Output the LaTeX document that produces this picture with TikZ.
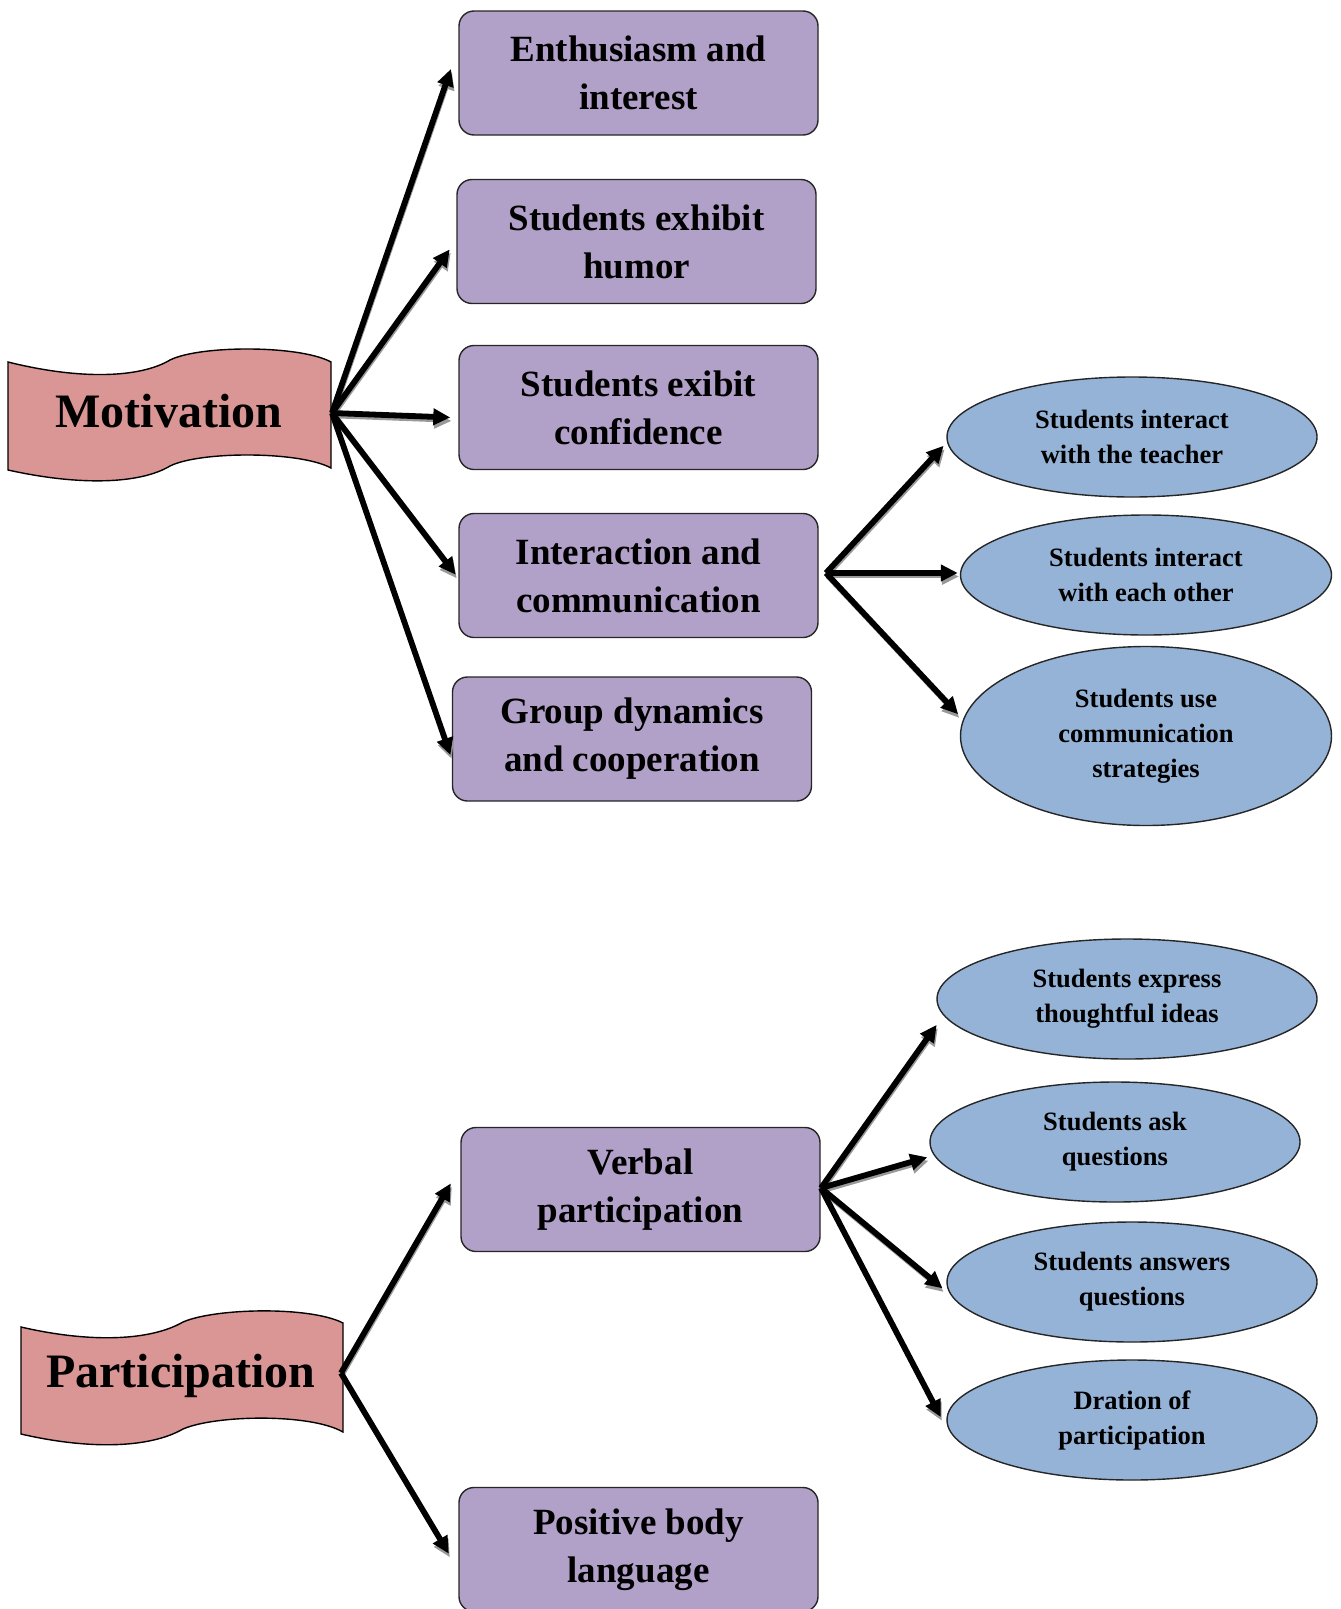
\documentclass[tikz,border=0pt]{standalone}
\usepackage{fontspec}
\setmainfont{Liberation Serif}
\usetikzlibrary{shapes.geometric,arrows.meta}
\definecolor{boxpurple}{RGB}{177,160,199}
\definecolor{ellblue}{RGB}{149,179,215}
\definecolor{bannerred}{RGB}{217,150,148}
\begin{document}
\begin{tikzpicture}[x=1pt,y=-1pt,
  purplebox/.style={draw=black!85,line width=1.4pt,fill=boxpurple,rounded corners=15pt,
    minimum width=359pt,minimum height=124pt,inner sep=0pt,align=center,
    font=\fontsize{37}{48}\selectfont\bfseries},
  blueell/.style={draw=black!85,line width=1.4pt,fill=ellblue,ellipse,inner sep=0pt,align=center,
    font=\fontsize{26.5}{35}\selectfont\bfseries},
  banner/.style={draw=black,line width=1.4pt,fill=bannerred},
  bannertext/.style={font=\fontsize{48}{56}\selectfont\bfseries},
  arr/.style={line width=5.8pt,-{Triangle[length=17pt,width=16pt]},shorten >=1pt,
    preaction={draw=black!40,line width=3.5pt,transform canvas={shift={(1pt,-3.5pt)}}}}
]
\useasboundingbox (0,0) rectangle (1341,1609);
% Motivation banner
\draw[banner] (8,362) .. controls (80,380) and (140,378) .. (170,360)
  .. controls (200,345) and (300,345) .. (331,362) -- (331,468)
  .. controls (300,451) and (200,451) .. (170,466)
  .. controls (140,484) and (80,486) .. (8,470) -- cycle;
\node[bannertext] (mot) at (169,411) {Motivation};
\coordinate (motR) at (332,413);
% Participation banner
\draw[banner] (21,1327) .. controls (90,1343) and (150,1341) .. (183,1322)
  .. controls (215,1308) and (310,1306) .. (343,1323) -- (343,1432)
  .. controls (310,1413) and (215,1415) .. (183,1429)
  .. controls (150,1448) and (90,1450) .. (21,1434) -- cycle;
\node[bannertext] (par) at (181,1376) {Participation};
\coordinate (parR) at (341,1373);
% boxes
\node[purplebox] (b1) at (638.5,73) {Enthusiasm and\\interest};
\node[purplebox] (b2) at (636.5,241.5) {Students exhibit\\humor};
\node[purplebox] (b3) at (638.5,407.5) {Students exibit\\confidence};
\node[purplebox] (b4) at (638.5,575.5) {Interaction and\\communication};
\node[purplebox] (b5) at (632,739) {Group dynamics\\and cooperation};
\node[purplebox] (v) at (640.5,1189.5) {Verbal\\participation};
\node[purplebox] (pb) at (638.5,1549.5) {Positive body\\language};
% ellipses
\node[blueell,minimum width=370pt,minimum height=120pt] (e1) at (1132,437) {Students interact\\with the teacher};
\node[blueell,minimum width=371pt,minimum height=120pt] (e2) at (1146,575) {Students interact\\with each other};
\node[blueell,minimum width=371pt,minimum height=179pt] (e3) at (1146,736) {Students use\\communication\\strategies};
\node[blueell,minimum width=380pt,minimum height=120pt] (e4) at (1127,999) {Students express\\thoughtful ideas};
\node[blueell,minimum width=370pt,minimum height=120pt] (e5) at (1115,1142) {Students ask\\questions};
\node[blueell,minimum width=370pt,minimum height=120pt] (e6) at (1132,1282) {Students answers\\questions};
\node[blueell,minimum width=370pt,minimum height=120pt] (e7) at (1132,1420) {Dration of\\participation};
% Motivation arrows
\draw[arr] (motR) -- ([xshift=-7pt,yshift=5pt]b1.west);
\draw[arr] (motR) -- ([xshift=-6pt,yshift=-7pt]b2.west);
\draw[arr] (motR) -- ([xshift=-7pt,yshift=-10pt]b3.west);
\draw[arr] (motR) -- ([xshift=-2pt]b4.west);
\draw[arr] (motR) -- ([xshift=-1pt,yshift=-17pt]b5.west);
% Interaction arrows
\coordinate (b4R) at (826,573);
\draw[arr] (b4R) -- ([xshift=-2pt,yshift=-8pt]e1.west);
\draw[arr] (b4R) -- ([xshift=-1pt,yshift=2pt]e2.west);
\draw[arr] (b4R) -- ([xshift=-1pt,yshift=21pt]e3.west);
% Participation arrows
\draw[arr] (parR) -- ([xshift=-9pt,yshift=7pt]v.west);
\draw[arr] (parR) -- ([xshift=-9pt,yshift=-5pt]pb.west);
% Verbal arrows
\coordinate (vR) at (821,1188);
\draw[arr] (vR) -- ([xshift=1pt,yshift=-25pt]e4.west);
\draw[arr] (vR) -- ([xshift=-1pt,yshift=-15pt]e5.west);
\draw[arr] (vR) -- ([xshift=-3pt,yshift=-7pt]e6.west);
\draw[arr] (vR) -- ([xshift=-5pt,yshift=2pt]e7.west);
\end{tikzpicture}
\end{document}
